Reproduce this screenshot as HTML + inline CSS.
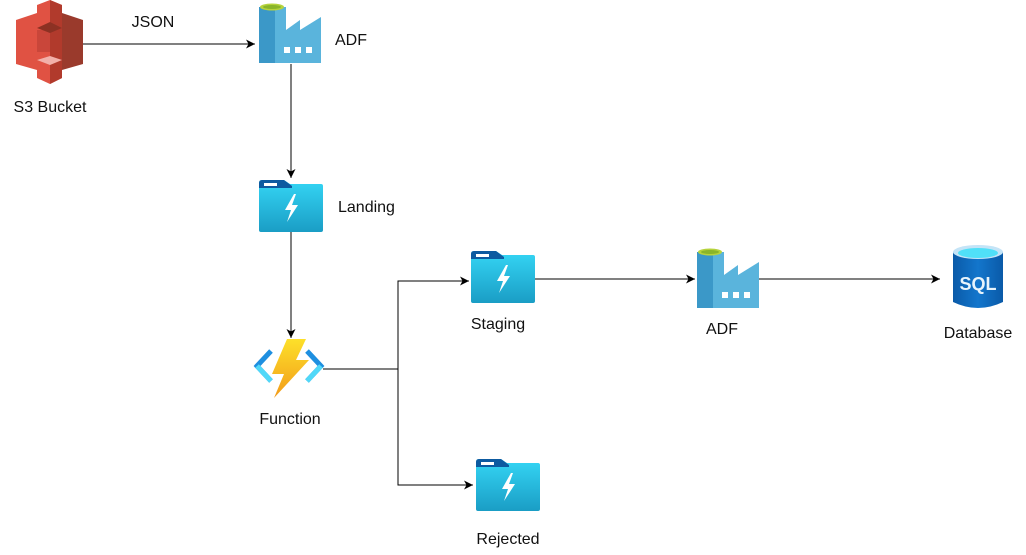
<!DOCTYPE html>
<html><head><meta charset="utf-8"><style>
html,body{margin:0;padding:0;background:#fff;width:1026px;height:555px;overflow:hidden}
text{font-family:"Liberation Sans",sans-serif;font-size:16px;fill:#111}
</style></head><body>
<svg width="1026" height="555" viewBox="0 0 1026 555" xmlns="http://www.w3.org/2000/svg">
<defs>
<linearGradient id="fg" x1="0" y1="0" x2="0" y2="1"><stop offset="0" stop-color="#35d6f5"/><stop offset="1" stop-color="#1a9dc5"/></linearGradient>
<linearGradient id="bolt" x1="0" y1="0" x2="0" y2="1"><stop offset="0" stop-color="#fde02a"/><stop offset="1" stop-color="#f29b1a"/></linearGradient>
<linearGradient id="sql" x1="0" y1="0" x2="1" y2="0"><stop offset="0" stop-color="#0a5aa8"/><stop offset="0.5" stop-color="#1376cc"/><stop offset="1" stop-color="#0a5aa8"/></linearGradient>
<marker id="ah" markerWidth="12" markerHeight="12" refX="9" refY="6" orient="auto" markerUnits="userSpaceOnUse"><path d="M0,1.5 L9,6 L0,10.5 L2.5,6 Z" fill="#000"/></marker>
<g id="folder">
<path d="M0,3 Q0,0 3,0 L25,0 L31,4 L62,4 Q64,4 64,6 L64,50 Q64,52 62,52 L2,52 Q0,52 0,50 Z" fill="url(#fg)"/>
<path d="M0,3 Q0,0 3,0 L25,0 L33,6 L33,8 L0,8 Z" fill="#0d5aa0"/>
<rect x="5" y="3" width="13" height="3" fill="#fff"/>
<path d="M35,14 L26,30 L32,30 L28,42 L39,25 L33,25 L37,14 Z" fill="#fff"/>
</g>
<g id="adf">
<rect x="0" y="5" width="16" height="56" fill="#3b98c8"/>
<path d="M16,61 L16,5 L27,5 L27,28 L41,18 L41,28 L62,15 L62,61 Z" fill="#5ab4dc"/>
<ellipse cx="13" cy="5" rx="12" ry="3.5" fill="#b6d33c"/>
<ellipse cx="13" cy="5" rx="9" ry="2" fill="#8ab52a"/>
<rect x="25" y="45" width="6" height="6" fill="#fff"/><rect x="36" y="45" width="6" height="6" fill="#fff"/><rect x="47" y="45" width="6" height="6" fill="#fff"/>
</g>
</defs>

<!-- S3 -->
<g>
<path d="M16,20 L37,13 L37,70 L16,64 Z" fill="#e05243"/>
<path d="M83,20 L62,13 L62,70 L83,64 Z" fill="#9a3a2c"/>
<path d="M37,5 L50,0 L62,5 L62,78 L50,84 L37,78 Z" fill="#e05243"/>
<path d="M50,0 L62,5 L62,78 L50,84 Z" fill="#b13a2c"/>
<rect x="37" y="30" width="13" height="22" fill="#c9463a"/>
<path d="M37,28 L50,22 L62,28 L50,33 Z" fill="#8c3123"/>
<path d="M37,60 L50,56 L62,60 L50,65 Z" fill="#f2b0a9"/>
</g>
<text x="50" y="112" text-anchor="middle">S3 Bucket</text>

<line x1="83" y1="44" x2="255" y2="44" stroke="#000" stroke-width="1" marker-end="url(#ah)"/>
<text x="153" y="27" text-anchor="middle">JSON</text>

<use href="#adf" x="259" y="2"/>
<text x="335" y="45">ADF</text>

<line x1="291" y1="64" x2="291" y2="178" stroke="#000" marker-end="url(#ah)"/>
<use href="#folder" x="259" y="180"/>
<text x="338" y="212">Landing</text>

<line x1="291" y1="232" x2="291" y2="338" stroke="#000" marker-end="url(#ah)"/>

<!-- Function -->
<g>
<path d="M271,351 L257,366 L271,381" fill="none" stroke="#1e8fe0" stroke-width="5"/>
<path d="M257,366 L271,381" stroke="#50d8f8" stroke-width="5"/>
<path d="M307,351 L321,366 L307,381" fill="none" stroke="#1e8fe0" stroke-width="5"/>
<path d="M321,366 L307,381" stroke="#50d8f8" stroke-width="5"/>
<path d="M287,339 L306,339 L296,360 L309,360 L274,398 L284,374 L272,374 Z" fill="url(#bolt)"/>
</g>
<text x="290" y="424" text-anchor="middle">Function</text>

<polyline points="323,369 398,369 398,281 469,281" fill="none" stroke="#000" marker-end="url(#ah)"/>
<polyline points="398,369 398,485 473,485" fill="none" stroke="#000" marker-end="url(#ah)"/>

<use href="#folder" x="471" y="251"/>
<text x="498" y="329" text-anchor="middle">Staging</text>
<use href="#folder" x="476" y="459"/>
<text x="508" y="544" text-anchor="middle">Rejected</text>

<line x1="535" y1="279" x2="695" y2="279" stroke="#000" marker-end="url(#ah)"/>
<use href="#adf" x="697" y="247"/>
<text x="722" y="334" text-anchor="middle">ADF</text>

<line x1="759" y1="279" x2="940" y2="279" stroke="#000" marker-end="url(#ah)"/>
<g>
<path d="M953,252 L953,302 Q978,314 1003,302 L1003,252 Z" fill="url(#sql)"/>
<ellipse cx="978" cy="252" rx="25" ry="7" fill="#c4e4f7"/>
<ellipse cx="978" cy="253" rx="20" ry="5" fill="#50e0f8"/>
<text x="978" y="290" text-anchor="middle" style="font-size:18px;font-weight:bold;fill:#e8f4fc">SQL</text>
</g>
<text x="978" y="338" text-anchor="middle">Database</text>
</svg>
</body></html>
